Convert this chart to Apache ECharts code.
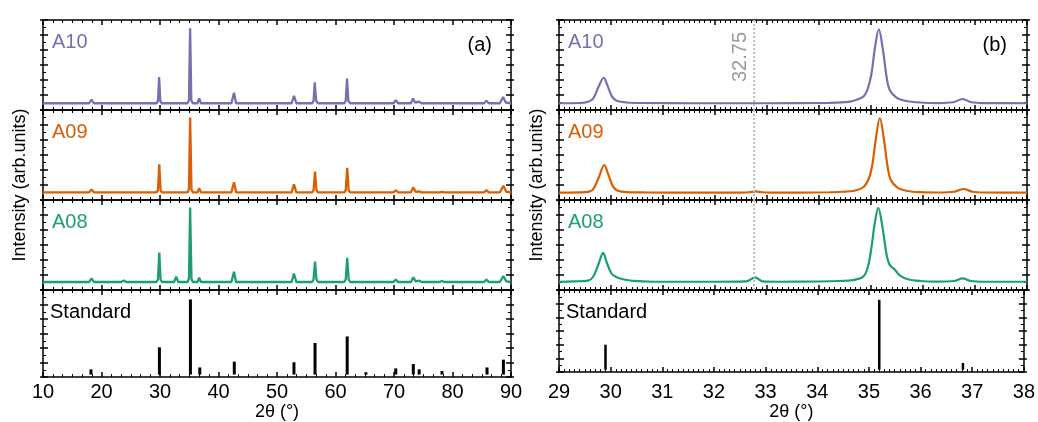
<!DOCTYPE html>
<html><head><meta charset="utf-8">
<script src="https://cdn.jsdelivr.net/npm/echarts@6/dist/echarts.min.js"></script>
<style>html,body{margin:0;padding:0;background:#fff}#c{width:1038px;height:422px}</style>
</head><body><div id="c"></div>
<script>
// ---------- DATA ----------
const sampleNames = ['A10', 'A09', 'A08'];
const sampleColors = ['#7570b3', '#d95f02', '#1b9e77'];
const xTicksLeft = [10, 20, 30, 40, 50, 60, 70, 80, 90];
const xTicksRight = [29, 30, 31, 32, 33, 34, 35, 36, 37, 38];
const refLine = 32.75;

// Panel (a): wide scan 10-90
const a10Wide = [[10,9],[17.9,9],[18.3,14],[18.7,9],
 [29.4,9],[29.65,12],[29.85,44],[30.05,12],[30.3,9],
 [34.7,9],[34.95,13],[35.15,109],[35.35,13],[35.6,9],
 [36.4,9],[36.7,15.5],[37.0,9],
 [42.2,9],[42.65,23],[43.0,9],
 [52.5,9],[52.9,19],[53.3,9],
 [56.0,9],[56.25,12],[56.45,37],[56.7,12],[57.0,9],
 [61.5,9],[61.75,12],[61.97,42],[62.2,12],[62.5,9],
 [69.9,9],[70.3,13],[70.7,9],
 [72.9,9],[73.25,15.5],[73.6,10],[74.3,11],[74.7,9],
 [85.4,9],[85.8,12.4],[86.2,9],
 [88.1,9],[88.65,17.3],[89.1,10],[90,9]];
const a09Wide = [[10,10.2],[17.9,10.2],[18.3,14.2],[18.7,10.2],
 [29.4,10.2],[29.65,13],[29.88,47.6],[30.1,13],[30.35,10.2],
 [34.7,10.2],[34.95,14],[35.15,110],[35.38,14],[35.6,10.2],
 [36.4,10.2],[36.7,15.6],[37.0,10.2],
 [42.2,10.2],[42.65,23.6],[43.0,10.2],
 [52.5,10.2],[52.9,21],[53.3,10.2],
 [56.0,10.2],[56.25,13],[56.5,37.8],[56.75,13],[57.0,10.2],
 [61.5,10.2],[61.75,13],[62.0,43],[62.25,13],[62.5,10.2],
 [69.9,10.2],[70.3,13],[70.7,10.2],
 [72.9,10.2],[73.3,17],[73.7,10.8],[74.3,11.5],[74.7,10.2],
 [77.8,10.2],[78.2,10.9],[78.6,10.2],
 [85.4,10.2],[85.8,13.3],[86.2,10.2],
 [88.1,10.2],[88.7,19],[89.2,11],[90,10.2]];
const a08Wide = [[10,10.7],[17.9,10.7],[18.3,15.5],[18.7,10.7],
 [23.4,10.7],[23.8,12.8],[24.2,10.7],
 [29.4,10.7],[29.65,14],[29.88,50],[30.1,14],[30.35,10.7],
 [32.4,10.7],[32.77,17.7],[33.1,10.7],
 [34.7,10.7],[34.95,15],[35.15,110],[35.38,15],[35.6,10.7],
 [36.4,10.7],[36.7,16.4],[37.0,10.7],
 [42.2,10.7],[42.65,24.3],[43.0,10.7],
 [52.5,10.7],[52.9,22],[53.3,10.7],
 [56.0,10.7],[56.25,14],[56.5,38],[56.75,14],[57.0,10.7],
 [61.5,10.7],[61.75,14],[62.0,43],[62.25,14],[62.5,10.7],
 [69.9,10.7],[70.3,14],[70.7,10.7],
 [72.9,10.7],[73.3,17],[73.7,11.5],[74.3,12.5],[74.7,10.7],
 [77.8,10.7],[78.2,12],[78.6,10.7],
 [85.4,10.7],[85.8,14],[86.2,10.7],
 [88.1,10.7],[88.7,18.5],[89.2,11.5],[90,10.7]];
const stdPosWide = [18.2, 29.9, 35.2, 36.8, 42.7, 52.9, 56.5, 62.0, 65.2, 70.3, 73.3, 74.3, 78.2, 85.9, 88.7];
const stdIntWide = [10.7, 41, 107, 13.3, 21.3, 20.4, 47, 56, 6.7, 12, 18, 10.7, 8.4, 13.3, 24];

// Panel (b): zoom 29-38
const a10Zoom = [[29,9],[29.4,9.3],[29.56,11],[29.66,15.6],[29.76,31],[29.86,43],[29.93,33],[30.02,17.8],[30.11,12.4],[30.3,10],[30.6,9.3],[31.5,9],[33,9],[34.2,9.5],[34.5,10.5],[34.65,12],[34.85,17.8],[34.94,29],[35.01,49],[35.07,80],[35.15,107.5],[35.23,80],[35.3,44],[35.36,26.7],[35.49,16.5],[35.68,12],[35.94,10],[36.3,9.3],[36.58,10.3],[36.76,14.7],[36.93,10.3],[37.2,9.2],[38,9]];
const a09Zoom = [[29,9.8],[29.4,10.1],[29.58,11.1],[29.67,15.6],[29.77,31],[29.87,46.7],[29.94,35.6],[30.04,17.8],[30.13,12.4],[30.33,10.5],[30.7,10],[31.5,9.8],[32.5,9.9],[32.65,10.3],[32.78,11.5],[32.9,10.3],[33.1,9.9],[34.2,10.3],[34.5,11.2],[34.65,12],[34.85,17],[34.96,29],[35.03,49],[35.09,80],[35.17,109],[35.25,80],[35.32,44],[35.38,26.7],[35.51,16.5],[35.7,12],[35.96,10.4],[36.3,10],[36.6,11],[36.78,14.7],[36.95,11],[37.2,10],[38,9.8]];
const a08Zoom = [[29,11],[29.3,11.5],[29.56,12.6],[29.65,17],[29.75,32.6],[29.85,49.5],[29.92,36.3],[30.01,22],[30.1,17.3],[30.23,14.3],[30.42,12.1],[30.81,11],[32,11],[32.6,11.5],[32.77,16.8],[32.92,11.5],[33.2,11],[34.0,11.3],[34.4,12],[34.65,13.2],[34.85,17.8],[34.94,30.9],[35.01,57],[35.07,88],[35.14,109.4],[35.22,84],[35.3,47],[35.36,33.5],[35.46,27],[35.55,19.4],[35.71,14.3],[35.94,12],[36.26,11.2],[36.6,12],[36.76,15.5],[36.92,12],[37.2,11],[38,11]];
const stdPosZoom = [29.9, 35.2, 36.82];
const stdIntZoom = [40, 105.7, 13.3];
const stdBase = 3.5;
const yRange = [0, 120];

// ---------- LAYOUT / STYLE ----------
const FONT = 'Liberation Sans, Arial, sans-serif';
const panelTops = [20, 110, 200, 290];
const panelH = 90;
const colLeft = [43, 559];
const colW = 468;
const xCfg = [
  {min: xTicksLeft[0], max: xTicksLeft[xTicksLeft.length-1], interval: 10, minor: 6, labelMargin: 5, nameGap: 23},
  {min: xTicksRight[0], max: xTicksRight[xTicksRight.length-1], interval: 1, minor: 10, labelMargin: 10, nameGap: 20}
];
const wideData = [a10Wide, a09Wide, a08Wide];
const zoomData = [a10Zoom, a09Zoom, a08Zoom];

const grids = [], xAxes = [], yAxes = [], series = [], graphics = [];
const black = '#000';

function addGrid(col, row) {
  const gi = grids.length;
  grids.push({left: colLeft[col], top: panelTops[row], width: colW, height: panelH, containLabel: false});
  const c = xCfg[col];
  const isBottom = row === 3;
  ['bottom', 'top'].forEach(pos => {
    xAxes.push({
      type: 'value', gridIndex: gi, position: pos, min: c.min, max: c.max, interval: c.interval,
      axisLine: {show: true, onZero: false, lineStyle: {color: black, width: 1.5}},
      axisTick: {show: true, inside: true, length: 5, lineStyle: {color: black, width: 1.5}},
      minorTick: {show: true, splitNumber: c.minor, length: 3, lineStyle: {color: black, width: 1}},
      splitLine: {show: false}, minorSplitLine: {show: false},
      axisLabel: {show: isBottom && pos === 'bottom', color: black, fontSize: 20, fontFamily: FONT, margin: c.labelMargin},
      name: (isBottom && pos === 'bottom') ? '2θ (°)' : '',
      nameLocation: 'middle', nameGap: c.nameGap,
      nameTextStyle: {color: black, fontSize: 18, fontFamily: FONT}
    });
  });
  const xi = xAxes.length - 2;
  const yStart = yAxes.length;
  ['left', 'right'].forEach(pos => {
    yAxes.push({
      type: 'value', gridIndex: gi, position: pos, min: yRange[0], max: yRange[1], interval: 20,
      axisLine: {show: true, onZero: false, lineStyle: {color: black, width: 1.5}},
      axisTick: {show: true, inside: true, length: 5, lineStyle: {color: black, width: 1.5}},
      minorTick: {show: true, splitNumber: 2, length: 3, lineStyle: {color: black, width: 1}},
      splitLine: {show: false}, minorSplitLine: {show: false}, axisLabel: {show: false}
    });
    yAxes.push({
      type: 'value', gridIndex: gi, position: pos, min: yRange[0], max: yRange[1], interval: 20,
      axisLine: {show: false, onZero: false},
      axisTick: {show: true, inside: false, length: 3, lineStyle: {color: black, width: 1.5}},
      minorTick: {show: false},
      splitLine: {show: false}, axisLabel: {show: false}
    });
  });
  return {gi, xi, yi: yStart};
}

function stickSeries(ax, pos, ints, width) {
  return {
    type: 'custom', xAxisIndex: ax.xi, yAxisIndex: ax.yi, silent: true,
    data: pos.map((p, i) => [p, ints[i]]),
    encode: {x: 0, y: 1},
    renderItem: function (params, api) {
      const p0 = api.coord([api.value(0), stdBase]);
      const p1 = api.coord([api.value(0), api.value(1)]);
      return {type: 'line', shape: {x1: p0[0], y1: p0[1], x2: p1[0], y2: p1[1]},
              style: {stroke: black, lineWidth: width}};
    }
  };
}

for (let col = 0; col < 2; col++) {
  for (let row = 0; row < 4; row++) {
    const ax = addGrid(col, row);
    if (row < 3) {
      const s = {
        type: 'line', xAxisIndex: ax.xi, yAxisIndex: ax.yi, showSymbol: false, silent: true,
        data: col === 0 ? wideData[row] : zoomData[row],
        smooth: col === 0 ? false : 0.35,
        lineStyle: {color: sampleColors[row], width: col === 0 ? 2.3 : 2.2}, itemStyle: {color: sampleColors[row]},
        z: 3
      };
      if (col === 1) {
        s.markLine = {
          silent: true, symbol: 'none', animation: false,
          lineStyle: {color: '#bdbdbd', type: 'dotted', width: 2},
          label: row === 0 ? {show: true, formatter: String(refLine), position: 'insideEndTop',
                 distance: [12, 4], color: '#9a9a9a', fontSize: 20, fontFamily: FONT} : {show: false},
          data: [{xAxis: refLine}]
        };
      }
      series.push(s);
    } else {
      series.push(col === 0 ? stickSeries(ax, stdPosWide, stdIntWide, 3) : stickSeries(ax, stdPosZoom, stdIntZoom, 2.5));
    }
    const name = row < 3 ? sampleNames[row] : 'Standard';
    const color = row < 3 ? sampleColors[row] : black;
    graphics.push({type: 'text', x: colLeft[col] + (row === 3 ? 7 : 9), y: panelTops[row] + 22.5,
      style: {text: name, fill: color, font: '20px ' + FONT, align: 'left', verticalAlign: 'middle'}});
  }
}
graphics.push({type: 'text', x: 492, y: 45, style: {text: '(a)', fill: black, font: '20px ' + FONT, align: 'right', verticalAlign: 'middle'}});
graphics.push({type: 'text', x: 1007, y: 45, style: {text: '(b)', fill: black, font: '20px ' + FONT, align: 'right', verticalAlign: 'middle'}});
[20, 537].forEach(x => graphics.push({type: 'text', x: x, y: 185, rotation: Math.PI / 2,
  style: {text: 'Intensity (arb.units)', fill: black, font: '18px ' + FONT, align: 'center', verticalAlign: 'middle'}}));

const chart = echarts.init(document.getElementById('c'), null, {renderer: 'canvas'});
chart.setOption({
  animation: false, backgroundColor: '#fff',
  grid: grids, xAxis: xAxes, yAxis: yAxes, series: series, graphic: graphics
});
</script></body></html>
